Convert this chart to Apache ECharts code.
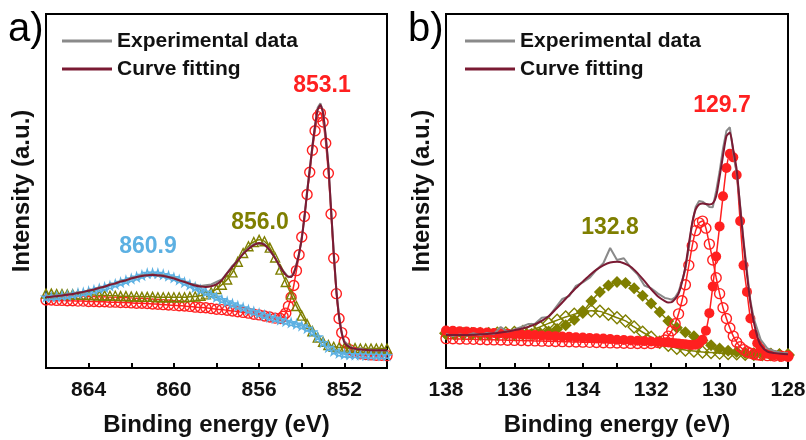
<!DOCTYPE html>
<html>
<head>
<meta charset="utf-8">
<script src="https://cdn.jsdelivr.net/npm/echarts@6/dist/echarts.min.js"></script>
<style>
  html, body { margin: 0; padding: 0; background: #fff; }
  #chart { width: 806px; height: 440px; }
</style>
</head>
<body>
<div id="chart"></div>
<script>
// ---- panel a: Ni 2p ----
const niX = [866, 865.75, 865.5, 865.25, 865, 864.75, 864.5, 864.25, 864, 863.75, 863.5, 863.25, 863, 862.75, 862.5, 862.25,
  862, 861.75, 861.5, 861.25, 861, 860.75, 860.5, 860.25, 860, 859.75, 859.5, 859.25, 859, 858.75, 858.5, 858.25,
  858, 857.75, 857.5, 857.25, 857, 856.75, 856.5, 856.25, 856, 855.75, 855.5, 855.25, 855,
  854.875, 854.75, 854.625, 854.5, 854.375, 854.25, 854.125, 854, 853.875, 853.75, 853.625, 853.5, 853.375, 853.25, 853.125,
  853, 852.875, 852.75, 852.625, 852.5, 852.375, 852.25, 852.125, 852,
  851.75, 851.5, 851.25, 851, 850.75, 850.5, 850.25, 850];
const niXCoarse = [866, 865.75, 865.5, 865.25, 865, 864.75, 864.5, 864.25, 864, 863.75, 863.5, 863.25, 863, 862.75, 862.5, 862.25,
  862, 861.75, 861.5, 861.25, 861, 860.75, 860.5, 860.25, 860, 859.75, 859.5, 859.25, 859, 858.75, 858.5, 858.25,
  858, 857.75, 857.5, 857.25, 857, 856.75, 856.5, 856.25, 856, 855.75, 855.5, 855.25, 855,
  854.75, 854.5, 854.25, 854, 853.75, 853.5, 853.25, 853, 852.75, 852.5, 852.25, 852,
  851.75, 851.5, 851.25, 851, 850.75, 850.5, 850.25, 850];

const niExp = [20.3, 19.9, 20.6, 20.2, 21.0, 20.7, 21.5, 21.2, 22.1, 22.0, 22.9, 22.8, 23.8, 23.7, 24.7, 24.6,
  25.6, 25.5, 26.3, 26.1, 26.6, 26.0, 26.3, 25.6, 25.6, 24.6, 24.5, 23.7, 23.6, 23.2, 23.4, 23.6,
  24.3, 25.0, 26.9, 28.9, 30.4, 32.4, 33.8, 35.0, 35.2, 35.1, 33.0, 31.3, 28.2,
  27.5, 26.6, 25.6, 26.0, 26.6, 29.4, 32.1, 36.9, 42.3, 50.0, 55.8, 62.9, 68.2, 73.6, 74.8,
  72.4, 65.0, 57.4, 44.6, 33.0, 21.6, 15.0, 9.7, 7.6,
  6.0, 5.3, 5.5, 5.0, 5.2, 4.9, 5.1, 4.9];
const niFit = [20.0, 20.1, 20.3, 20.5, 20.7, 20.9, 21.2, 21.5, 21.8, 22.2, 22.6, 23.0, 23.5, 23.9, 24.4, 24.8,
  25.3, 25.7, 26.0, 26.2, 26.3, 26.2, 26.0, 25.7, 25.3, 24.8, 24.3, 23.8, 23.3, 23.0, 22.9, 23.1,
  23.6, 24.8, 26.8, 28.6, 30.4, 32.2, 33.6, 34.7, 35.3, 34.8, 33.3, 31.0, 28.5,
  27.3, 26.3, 25.8, 25.7, 26.8, 29.0, 32.4, 36.5, 42.6, 49.5, 56.2, 62.5, 68.5, 73.0, 74.3,
  72.0, 65.5, 57.0, 45.0, 32.5, 22.0, 14.5, 10.0, 7.2,
  5.8, 5.4, 5.2, 5.1, 5.0, 5.0, 5.0, 5.0];
const niPeak853 = [19.2, 19.2, 19.1, 19.1, 19.0, 19.0, 18.9, 18.9, 18.8, 18.8, 18.7, 18.7, 18.6, 18.6, 18.5, 18.5,
  18.4, 18.3, 18.3, 18.2, 18.1, 18.0, 17.9, 17.8, 17.7, 17.6, 17.5, 17.4, 17.2, 17.1, 17.0, 16.8,
  16.6, 16.5, 16.3, 16.1, 15.9, 15.7, 15.5, 15.2, 15.0, 14.7, 14.4, 14.1, 14.0,
  14.6, 15.5, 17.4, 20.0, 23.3, 27.5, 32.0, 37.0, 42.8, 49.0, 55.3, 61.5, 67.0, 71.0, 72.0,
  69.5, 63.5, 55.0, 43.5, 31.0, 21.0, 14.0, 10.0, 7.5,
  5.2, 4.4, 4.0, 3.8, 3.7, 3.6, 3.6, 3.5];
const niPeak856 = [21.0, 21.0, 20.9, 20.9, 20.8, 20.8, 20.7, 20.7, 20.6, 20.6, 20.5, 20.5, 20.4, 20.4, 20.3, 20.3,
  20.2, 20.2, 20.1, 20.1, 20.1, 20.0, 20.0, 20.0, 20.0, 20.0, 20.0, 20.1, 20.2, 20.4, 20.8, 21.4,
  22.3, 23.5, 25.0, 27.0, 30.0, 32.5, 34.4, 35.6, 36.2, 35.8, 34.0, 31.2, 27.8,
  24.3, 20.8, 17.5, 14.8, 12.4, 10.4, 8.6, 7.4, 6.5, 6.0, 5.8, 5.7,
  5.6, 5.6, 5.5, 5.5, 5.5, 5.5, 5.5, 5.5];
const niPeak861 = [20.0, 20.1, 20.2, 20.4, 20.5, 20.8, 21.1, 21.3, 21.6, 22.0, 22.4, 22.8, 23.2, 23.7, 24.2, 24.7,
  25.2, 25.7, 26.2, 26.7, 26.8, 26.7, 26.4, 26.0, 25.5, 24.9, 24.2, 23.5, 22.8, 22.1, 21.4, 20.7,
  20.0, 19.3, 18.7, 18.1, 17.5, 17.0, 16.4, 15.9, 15.4, 14.9, 14.4, 14.0, 13.6,
  13.2, 12.8, 12.4, 11.9, 11.2, 10.2, 8.8, 7.2, 5.8, 4.8, 4.2, 3.9,
  3.8, 3.7, 3.7, 3.6, 3.6, 3.6, 3.5, 3.5];

// ---- panel b: P 2p ----
const pX = [138, 137.8, 137.6, 137.4, 137.2, 137, 136.8, 136.6, 136.4, 136.2, 136, 135.8, 135.6, 135.4, 135.2, 135,
  134.8, 134.6, 134.4, 134.2, 134, 133.8, 133.6, 133.4, 133.2, 133, 132.8, 132.6, 132.4, 132.2, 132, 131.8, 131.6,
  131.5, 131.4, 131.3, 131.2, 131.1, 131, 130.9, 130.8, 130.7, 130.6, 130.5, 130.4, 130.3, 130.2, 130.1, 130,
  129.9, 129.8, 129.7, 129.6, 129.5, 129.4, 129.3, 129.2, 129.1, 129, 128.9, 128.8,
  128.6, 128.4, 128.2, 128];
const pXCoarse = [138, 137.75, 137.5, 137.25, 137, 136.75, 136.5, 136.25, 136, 135.75, 135.5, 135.25, 135, 134.75,
  134.5, 134.25, 134, 133.75, 133.5, 133.25, 133, 132.75, 132.5, 132.25, 132, 131.75, 131.5, 131.25, 131,
  130.75, 130.5, 130.25, 130, 129.75, 129.5, 129.25, 129, 128.75, 128.5, 128.25, 128];

const pExp = [9.6, 9.0, 9.5, 9.2, 9.8, 9.3, 9.9, 9.6, 11.6, 10.2, 10.9, 11.6, 12.4, 12.5, 14.2, 14.4,
  17.0, 19.5, 20.3, 23.2, 24.2, 25.5, 27.7, 29.6, 33.9, 30.5, 31.0, 28.4, 26.5, 23.3, 22.5, 21.0, 19.8,
  19.6, 19.3, 20.0, 21.5, 24.5, 28.0, 34.0, 41.0, 45.5, 47.2, 47.0, 46.3, 45.5, 45.4, 50.0, 55.5,
  62.0, 67.0, 68.0, 61.0, 55.0, 46.0, 36.0, 27.5, 19.0, 14.0, 11.0, 8.0,
  5.5, 4.8, 4.3, 4.2];
const pFit = [9.3, 9.3, 9.3, 9.3, 9.4, 9.5, 9.6, 9.8, 10.0, 10.3, 10.7, 11.1, 11.6, 12.3, 13.3, 14.6,
  16.5, 18.5, 20.6, 22.6, 24.4, 26.2, 27.8, 29.0, 29.8, 30.0, 29.6, 28.6, 26.8, 24.6, 22.2, 20.2, 18.9,
  18.5, 18.6, 19.5, 21.0, 24.2, 28.6, 35.0, 41.0, 44.8, 46.2, 46.5, 46.3, 46.2, 46.5, 48.5, 54.0,
  60.0, 65.5, 66.5, 61.6, 56.0, 45.5, 35.5, 26.5, 18.5, 13.0, 9.0, 6.5,
  4.6, 4.2, 4.0, 3.9];
const pPeak1297 = [10.6, 10.5, 10.4, 10.3, 10.2, 10.1, 10.0, 9.9, 9.8, 9.7, 9.6, 9.5, 9.4, 9.3, 9.2, 9.1,
  9.0, 8.9, 8.8, 8.7, 8.6, 8.5, 8.4, 8.3, 8.2, 8.0, 7.9, 7.8, 7.7, 7.6, 7.5, 7.4, 7.3,
  7.2, 7.1, 7.0, 6.9, 6.8, 6.7, 6.6, 6.5, 6.6, 7.0, 8.0, 10.5, 15.5, 23.0, 31.5, 40.0,
  48.5, 56.5, 60.5, 59.5, 54.5, 41.5, 29.0, 21.5, 14.0, 9.5, 7.0, 5.5,
  4.0, 3.6, 3.4, 3.3];
const pPeak1305 = [8.3, 8.25, 8.2, 8.15, 8.1, 8.05, 8.0, 7.95, 7.9, 7.85, 7.8, 7.75, 7.7, 7.65, 7.6, 7.55,
  7.5, 7.45, 7.4, 7.35, 7.3, 7.25, 7.2, 7.15, 7.1, 7.05, 7.0, 6.95, 6.9, 6.9, 6.9, 7.2, 7.9,
  9.0, 10.5, 12.5, 15.3, 19.0, 23.5, 29.0, 34.5, 38.8, 41.0, 41.5, 39.5, 35.0, 30.5, 25.5, 21.0,
  17.0, 14.0, 11.3, 9.0, 7.3, 6.0, 5.2, 4.6, 4.2, 3.9, 3.7, 3.6,
  3.5, 3.4, 3.3, 3.3];
const pPeak1328 = [9.6, 9.6, 9.6, 9.5, 9.5, 9.5, 9.4, 9.4, 9.4, 9.4, 9.6, 9.9, 10.3, 11.0,
  12.1, 13.6, 15.8, 18.9, 21.5, 23.3, 24.3, 24.0, 22.5, 20.4, 18.2, 15.8, 13.3, 11.4, 10.1,
  9.0, 7.8, 6.4, 5.5, 4.9, 4.5, 4.25, 4.1, 4.0, 3.9, 3.8, 3.8];
const pPeak1339 = [9.8, 9.7, 9.7, 9.7, 9.7, 9.7, 9.8, 9.9, 10.0, 10.3, 10.8, 11.6, 12.6, 13.5,
  14.4, 15.2, 15.8, 16.2, 16.0, 15.2, 14.2, 13.3, 11.6, 10.1, 8.7, 7.3, 6.4, 5.6, 5.1,
  4.8, 4.5, 4.35, 4.2, 4.1, 4.0, 3.9, 3.9, 3.8, 3.8, 3.7, 3.7];

const FONT = '"Liberation Sans", Arial, sans-serif';
const RED = '#ff2020';
const OLIVE = '#7f7f00';
const BLUE = '#5cb0e2';
const GRAY = '#8a8a8a';
const WINE = '#7a1a33';
const STAR = 'path://M50,0 L61,35 L98,35 L68,57 L79,91 L50,70 L21,91 L32,57 L2,35 L39,35 Z';

const zip = (xs, ys) => xs.map((x, i) => [x, ys[i]]);

function component(name, idx, xs, ys, color, symbol, size, filled) {
  return {
    name: name,
    type: 'line',
    xAxisIndex: idx,
    yAxisIndex: idx,
    data: zip(xs, ys),
    symbol: symbol,
    symbolSize: size,
    smooth: 0.2,
    lineStyle: { color: color, width: 1.5 },
    itemStyle: filled
      ? { color: color }
      : { color: 'rgba(255,255,255,0)', borderColor: color, borderWidth: 1.4 },
    silent: true,
    z: 2,
  };
}

function curve(name, idx, xs, ys, color, z) {
  return {
    name: name,
    type: 'line',
    xAxisIndex: idx,
    yAxisIndex: idx,
    data: zip(xs, ys),
    symbol: 'none',
    smooth: name === 'Curve fitting' ? 0.2 : false,
    lineStyle: { color: color, width: 2 },
    itemStyle: { color: color },
    silent: true,
    z: z,
  };
}

function xAxis(idx, min, max, interval, step) {
  return {
    type: 'value',
    gridIndex: idx,
    min: min,
    max: max,
    interval: interval,
    inverse: true,
    name: 'Binding energy (eV)',
    nameLocation: 'middle',
    nameGap: 45,
    nameTextStyle: { fontFamily: FONT, fontWeight: 'bold', fontSize: 24, color: '#111' },
    axisLine: { show: true, lineStyle: { color: '#000', width: 2 } },
    axisTick: { show: true, inside: true, length: 5, lineStyle: { color: '#000', width: 2 } },
    axisLabel: {
      margin: 12,
      fontFamily: FONT,
      fontWeight: 'bold',
      fontSize: 21,
      color: '#111',
      formatter: (v) => (Math.round(v) % step === 0 ? String(v) : ''),
    },
    splitLine: { show: false },
  };
}

function yAxis(idx) {
  return {
    type: 'value',
    gridIndex: idx,
    min: 0,
    max: 100,
    name: 'Intensity (a.u.)',
    nameLocation: 'middle',
    nameGap: 12,
    nameTextStyle: { fontFamily: FONT, fontWeight: 'bold', fontSize: 24, color: '#111' },
    axisLine: { show: true, lineStyle: { color: '#000', width: 2 } },
    axisTick: { show: false },
    axisLabel: { show: false },
    splitLine: { show: false },
  };
}

function legend(left) {
  return {
    left: left,
    top: 29,
    orient: 'vertical',
    padding: 0,
    icon: 'rect',
    itemWidth: 50,
    itemHeight: 3,
    itemGap: 4,
    data: ['Experimental data', 'Curve fitting'],
    textStyle: { fontFamily: FONT, fontWeight: 'bold', fontSize: 21, color: '#111', lineHeight: 24 },
    selectedMode: false,
  };
}

function label(text, x, y, color) {
  return {
    type: 'text',
    x: x,
    y: y,
    style: {
      text: text,
      fill: color,
      font: 'bold 23px ' + FONT,
      align: 'center',
      verticalAlign: 'middle',
    },
  };
}

const chart = echarts.init(document.getElementById('chart'));
chart.setOption({
  animation: false,
  backgroundColor: '#fff',
  grid: [
    { left: 46, top: 14, width: 341, height: 354, show: true, borderColor: '#000', borderWidth: 2, outerBoundsMode: 'none' },
    { left: 446, top: 14, width: 342, height: 354, show: true, borderColor: '#000', borderWidth: 2, outerBoundsMode: 'none' },
  ],
  xAxis: [xAxis(0, 850, 866, 2, 4), xAxis(1, 128, 138, 1, 2)],
  yAxis: [yAxis(0), yAxis(1)],
  legend: [legend(62), legend(465)],
  series: [
    component('Ni 853.1', 0, niX, niPeak853, RED, 'circle', 10, false),
    component('Ni 856.0', 0, niXCoarse, niPeak856, OLIVE, 'triangle', 9, false),
    component('Ni 860.9', 0, niXCoarse, niPeak861, BLUE, STAR, 8, false),
    curve('Experimental data', 0, niX, niExp, GRAY, 3),
    curve('Curve fitting', 0, niX, niFit, WINE, 4),

    component('P 133.9', 1, pXCoarse, pPeak1339, OLIVE, 'diamond', 12, false),
    component('P 132.8', 1, pXCoarse, pPeak1328, OLIVE, 'diamond', 12, true),
    component('P 130.5', 1, pX, pPeak1305, RED, 'circle', 10, false),
    component('P 129.7', 1, pX, pPeak1297, RED, 'circle', 10, true),
    curve('Experimental data', 1, pX, pExp, GRAY, 3),
    curve('Curve fitting', 1, pX, pFit, WINE, 4),
  ],
  graphic: [
    { type: 'text', x: 8, y: 30, style: { text: 'a)', fill: '#000', font: '40px ' + FONT, verticalAlign: 'middle' } },
    { type: 'text', x: 408, y: 30, style: { text: 'b)', fill: '#000', font: '40px ' + FONT, verticalAlign: 'middle' } },
    label('853.1', 322, 86, RED),
    label('856.0', 260, 223, OLIVE),
    label('860.9', 148, 247, BLUE),
    label('129.7', 722, 106, RED),
    label('132.8', 610, 228, OLIVE),
  ],
});
</script>
</body>
</html>
